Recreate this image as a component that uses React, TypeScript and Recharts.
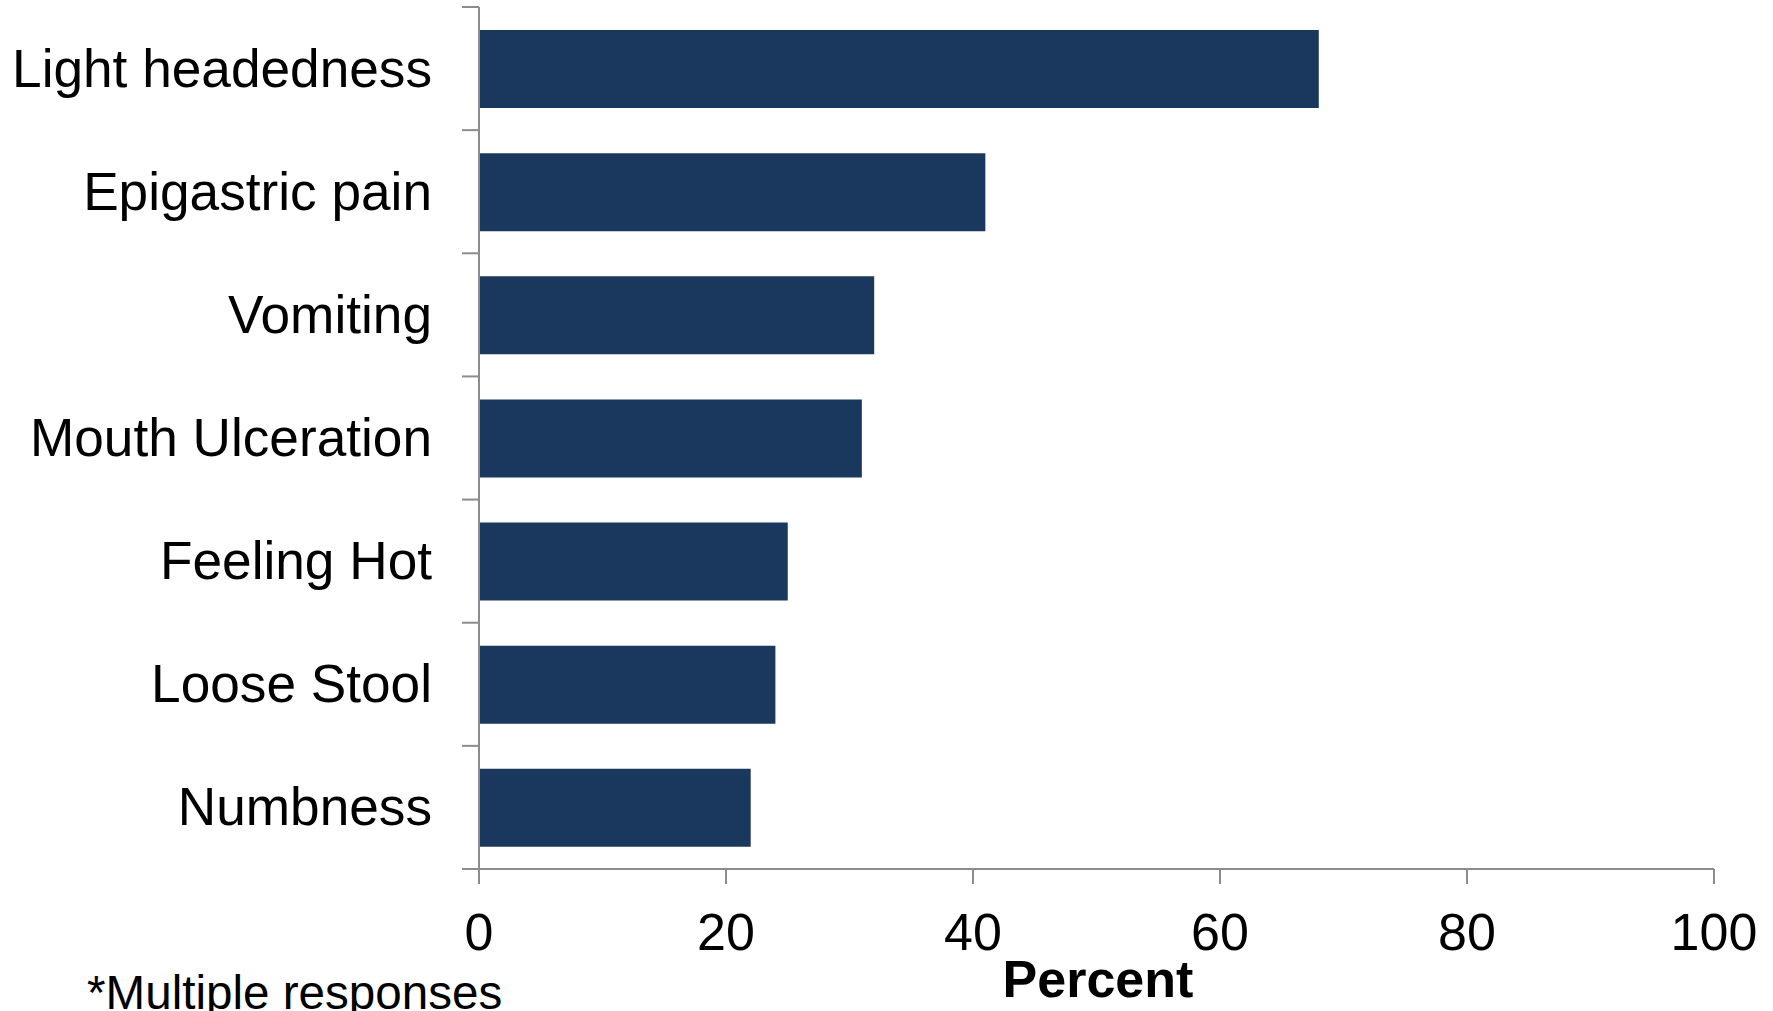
import { BarChart, Bar, XAxis, YAxis } from "recharts";

const symptoms = [
  "Light headedness",
  "Epigastric pain",
  "Vomiting",
  "Mouth Ulceration",
  "Feeling Hot",
  "Loose Stool",
  "Numbness",
];
const percents = [68, 41, 32, 31, 25, 24, 22];
const xTicks = [0, 20, 40, 60, 80, 100];

const data = symptoms.map((name, i) => ({ name, value: percents[i] }));

const W = 1773;
const H = 1011;
const TOP = 7;
const X_AXIS_H = 142;
const Y_AXIS_W = 479;
const RIGHT = 59;
const BAND = (H - TOP - X_AXIS_H) / symptoms.length;

const AXIS = "#8c8c8c";
const FONT = "'Liberation Sans', Arial, sans-serif";

function YTick(props: any) {
  const { x, y, payload, index } = props;
  return (
    <g>
      <line x1={x - 17} x2={x} y1={y - BAND / 2} y2={y - BAND / 2} stroke={AXIS} strokeWidth={2} />
      {index === symptoms.length - 1 && (
        <line x1={x - 17} x2={x} y1={y + BAND / 2} y2={y + BAND / 2} stroke={AXIS} strokeWidth={2} />
      )}
      <text x={x - 47} y={y + 18} textAnchor="end" fontSize={53.2} fill="#000" fontFamily={FONT}>
        {payload.value}
      </text>
    </g>
  );
}

function XTick(props: any) {
  const { x, y, payload } = props;
  return (
    <text x={x} y={y + 66} textAnchor="middle" fontSize={52} fill="#000" fontFamily={FONT}>
      {payload.value}
    </text>
  );
}

export default function App() {
  return (
    <div style={{ position: "absolute", left: 0, top: 0, width: W, height: H, background: "#fff", fontFamily: FONT }}>
      <BarChart
        width={W}
        height={H}
        data={data}
        layout="vertical"
        margin={{ top: TOP, right: RIGHT, bottom: 0, left: 0 }}
      >
        <XAxis
          type="number"
          domain={[0, 100]}
          ticks={xTicks}
          height={X_AXIS_H}
          tickSize={15}
          tickMargin={0}
          axisLine={{ stroke: AXIS, strokeWidth: 2 }}
          tickLine={{ stroke: AXIS, strokeWidth: 2 }}
          tick={<XTick />}
          interval={0}
        />
        <YAxis
          type="category"
          dataKey="name"
          width={Y_AXIS_W}
          tickSize={0}
          tickMargin={0}
          tickLine={false}
          axisLine={{ stroke: AXIS, strokeWidth: 2 }}
          tick={<YTick />}
          interval={0}
        />
        <Bar dataKey="value" fill="#1a375e" barSize={78} isAnimationActive={false} />
      </BarChart>
      <svg width={W} height={H} style={{ position: "absolute", left: 0, top: 0, pointerEvents: "none" }}>
        <text x={1098} y={997} textAnchor="middle" fontSize={52} fontWeight="bold" fill="#000" fontFamily={FONT}>
          Percent
        </text>
        <text x={87} y={1009} fontSize={47.6} fill="#000" fontFamily={FONT}>
          *Multiple responses
        </text>
      </svg>
    </div>
  );
}
